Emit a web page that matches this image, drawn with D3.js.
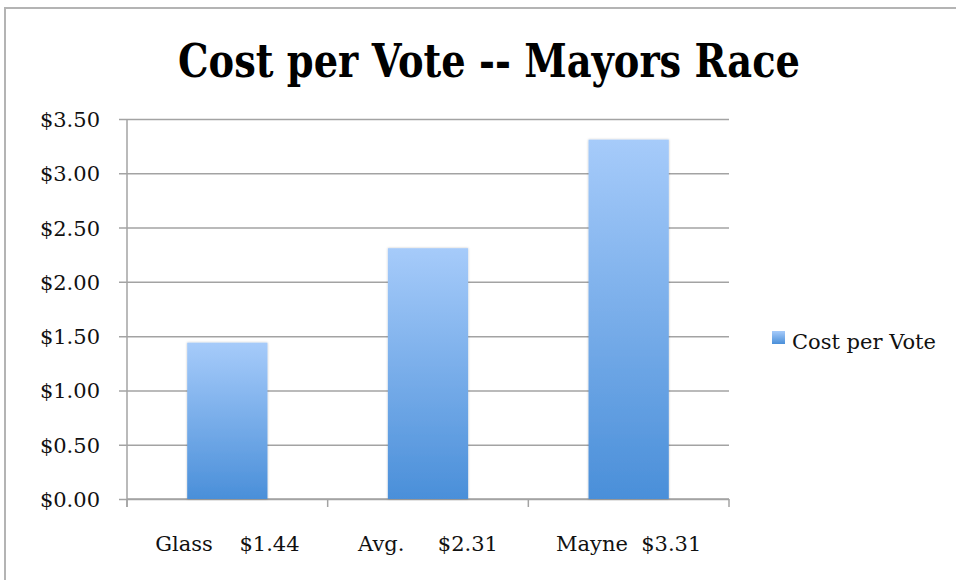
<!DOCTYPE html>
<html>
<head>
<meta charset="utf-8">
<script src="https://cdn.jsdelivr.net/npm/d3@7"></script>
<style>
  html, body { margin: 0; padding: 0; background: #fff; }
  svg text { font-family: "DejaVu Serif", "Liberation Serif", serif; white-space: pre; }
</style>
</head>
<body>
<svg id="chart"></svg>
<script>
const categories = ['Glass    $1.44', 'Avg.     $2.31', 'Mayne  $3.31'];
const values = [1.44, 2.31, 3.31];
const yTicks = [0, 0.5, 1, 1.5, 2, 2.5, 3, 3.5];
const seriesName = 'Cost per Vote';
const title = 'Cost per Vote -- Mayors Race';

const width = 956;
const height = 580;
const margin = { left: 127, right: 227, top: 119, bottom: 81 };

const svg = d3.select('#chart')
    .attr('width', width)
    .attr('height', height);

// outer frame
svg.append('path')
    .attr('d', `M5,${height} V8 H${width}`)
    .attr('fill', 'none')
    .attr('stroke', '#b4b4b4')
    .attr('stroke-width', 2);

// Title
svg.append('text')
    .attr('x', 178)
    .attr('y', 77)
    .attr('font-family', '"Liberation Serif", serif')
    .attr('font-size', '46px')
    .attr('font-weight', 'bold')
    .attr('fill', '#000')
    .attr('textLength', 622)
    .attr('lengthAdjust', 'spacingAndGlyphs')
    .text(title);

const x = d3.scaleBand()
    .domain(categories)
    .range([margin.left, width - margin.right])
    .paddingInner(0)
    .paddingOuter(0);

const y = d3.scaleLinear()
    .domain([0, 3.5])
    .range([height - margin.bottom, margin.top]);

const defs = svg.append('defs');
const grad = defs.append('linearGradient')
    .attr('id', 'bar-grad')
    .attr('x1', 0).attr('y1', 0).attr('x2', 0).attr('y2', 1);
grad.append('stop').attr('offset', '0%').attr('stop-color', '#a6cbfa');
grad.append('stop').attr('offset', '100%').attr('stop-color', '#4a8fd9');

const shadow = defs.append('filter').attr('id', 'shadow')
    .attr('x', '-10%').attr('y', '-10%').attr('width', '120%').attr('height', '120%');
shadow.append('feDropShadow')
    .attr('dx', 0).attr('dy', 0).attr('stdDeviation', 1.2)
    .attr('flood-color', '#000').attr('flood-opacity', 0.25);

// Gridlines + y labels
const yAxis = d3.axisLeft(y)
    .tickValues(yTicks)
    .tickSize(-(width - margin.left - margin.right))
    .tickPadding(27)
    .tickFormat(d => '$' + d3.format('.2f')(d));

const gy = svg.append('g')
    .attr('transform', `translate(${margin.left},0)`)
    .call(yAxis);
gy.select('.domain').remove();
gy.selectAll('.tick line')
    .attr('x1', -8)
    .attr('stroke', '#a3a3a3')
    .attr('stroke-width', 1.5);
gy.selectAll('.tick text')
    .attr('font-size', '21px')
    .attr('fill', '#111')
    .attr('dy', '0.36em');

// y axis line
svg.append('line')
    .attr('x1', margin.left).attr('x2', margin.left)
    .attr('y1', y(3.5)).attr('y2', y(0) + 8)
    .attr('stroke', '#a3a3a3')
    .attr('stroke-width', 1.5);

// x axis
const xAxis = d3.axisBottom(x).tickSize(0).tickPadding(0);
const gx = svg.append('g')
    .attr('transform', `translate(0,${y(0)})`)
    .call(xAxis);
gx.select('.domain').remove();
gx.selectAll('.tick text')
    .attr('y', 52)
    .attr('dy', 0)
    .attr('font-size', '21px')
    .attr('fill', '#111');

svg.append('line')
    .attr('x1', margin.left).attr('x2', width - margin.right)
    .attr('y1', y(0)).attr('y2', y(0))
    .attr('stroke', '#a3a3a3')
    .attr('stroke-width', 1.5);

// tick marks at band boundaries
const boundaries = categories.map(c => x(c)).concat([x(categories[categories.length - 1]) + x.bandwidth()]);
svg.selectAll('.xtick')
    .data(boundaries)
    .enter()
    .append('line')
    .attr('class', 'xtick')
    .attr('x1', d => d).attr('x2', d => d)
    .attr('y1', y(0)).attr('y2', y(0) + 8)
    .attr('stroke', '#a3a3a3')
    .attr('stroke-width', 1.5);

// Bars
const barW = x.bandwidth() * 0.4;
svg.selectAll('.bar')
    .data(values)
    .enter()
    .append('rect')
    .attr('class', 'bar')
    .attr('x', (d, i) => x(categories[i]) + (x.bandwidth() - barW) / 2)
    .attr('y', d => y(d))
    .attr('width', barW)
    .attr('height', d => y(0) - y(d))
    .attr('fill', 'url(#bar-grad)')
    .attr('filter', 'url(#shadow)');

// Legend
svg.append('rect')
    .attr('x', 772)
    .attr('y', 331)
    .attr('width', 13)
    .attr('height', 13)
    .attr('fill', 'url(#bar-grad)');

svg.append('text')
    .attr('x', 792)
    .attr('y', 349)
    .attr('font-size', '21px')
    .attr('fill', '#111')
    .text(seriesName);
</script>
</body>
</html>
